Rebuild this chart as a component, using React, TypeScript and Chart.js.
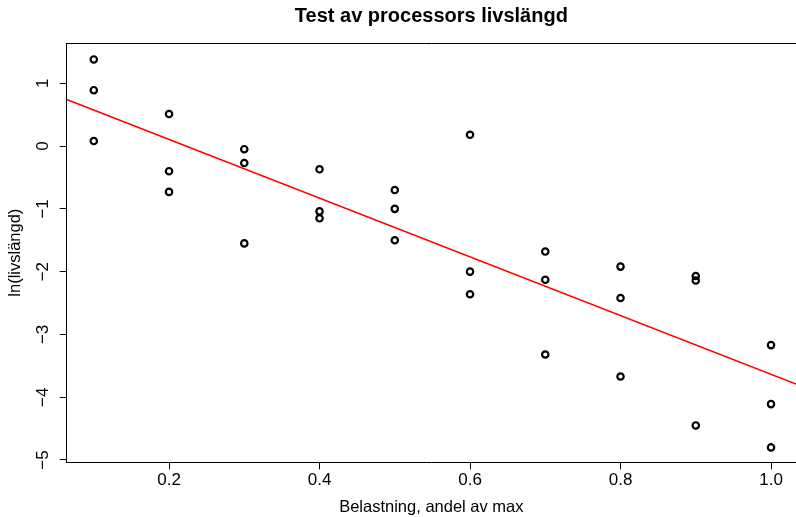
import React, { useEffect, useRef } from "react";
import { Chart, registerables } from "chart.js";

Chart.register(...registerables);

// ---- data ----
const loadLevels = [
  0.1, 0.1, 0.1,
  0.2, 0.2, 0.2,
  0.3, 0.3, 0.3,
  0.4, 0.4, 0.4,
  0.5, 0.5, 0.5,
  0.6, 0.6, 0.6,
  0.7, 0.7, 0.7,
  0.8, 0.8, 0.8,
  0.9, 0.9, 0.9,
  1.0, 1.0, 1.0,
];
const logLifetimes = [
  1.38, 0.89, 0.08,
  0.51, -0.40, -0.73,
  -0.05, -0.27, -1.55,
  -0.37, -1.04, -1.15,
  -0.70, -1.00, -1.50,
  0.18, -2.00, -2.36,
  -1.68, -2.13, -3.32,
  -1.92, -2.42, -3.67,
  -2.07, -2.14, -4.45,
  -3.17, -4.11, -4.80,
];
const xTickValues = [0.2, 0.4, 0.6, 0.8, 1.0];
const xTickLabels = ["0.2", "0.4", "0.6", "0.8", "1.0"];
const yTickValues = [-5, -4, -3, -2, -1, 0, 1];
const yTickLabels = ["\u22125", "\u22124", "\u22123", "\u22122", "\u22121", "0", "1"];

const TITLE = "Test av processors livslängd";
const X_TITLE = "Belastning, andel av max";
const Y_TITLE = "ln(livslängd)";

// axis ranges
const X_MIN = 0.064;
const X_MAX = 1.0332;
const Y_MIN = -5.037;
const Y_MAX = 1.642;

// ---- layout / style ----
const W = 796;
const H = 517;
const PLOT_LEFT = 66.7;
const PLOT_BOTTOM = 462.3;
const FONT = "'Liberation Sans', Arial, Helvetica, sans-serif";

function leastSquares(xs: number[], ys: number[]) {
  const n = xs.length;
  let mx = 0, my = 0;
  for (let i = 0; i < n; i++) { mx += xs[i]; my += ys[i]; }
  mx /= n; my /= n;
  let sxy = 0, sxx = 0;
  for (let i = 0; i < n; i++) {
    sxy += (xs[i] - mx) * (ys[i] - my);
    sxx += (xs[i] - mx) * (xs[i] - mx);
  }
  const b = sxy / sxx;
  return { a: my - b * mx, b };
}

const topFramePlugin = {
  id: "topFrame",
  afterDraw(chart: any) {
    const { ctx, chartArea } = chart;
    ctx.save();
    ctx.strokeStyle = "#000";
    ctx.lineWidth = 1;
    ctx.beginPath();
    const y = Math.round(chartArea.top) + 0.5;
    ctx.moveTo(chartArea.left, y);
    ctx.lineTo(chartArea.right, y);
    ctx.stroke();
    ctx.restore();
  },
};

export default function App() {
  const canvasRef = useRef<HTMLCanvasElement | null>(null);

  useEffect(() => {
    if (!canvasRef.current) return;
    const { a, b } = leastSquares(loadLevels, logLifetimes);
    const points = loadLevels.map((x, i) => ({ x, y: logLifetimes[i] }));
    const fitLine = [
      { x: X_MIN, y: a + b * X_MIN },
      { x: X_MAX, y: a + b * X_MAX },
    ];

    const chart = new Chart(canvasRef.current, {
      type: "scatter",
      data: {
        datasets: [
          {
            type: "line",
            data: fitLine,
            borderColor: "#ff0000",
            borderWidth: 1.5,
            pointRadius: 0,
            pointHoverRadius: 0,
            fill: false,
            order: 0,
          } as any,
          {
            data: points,
            pointRadius: 3.2,
            pointHoverRadius: 3.2,
            pointBorderWidth: 2.2,
            pointBorderColor: "#000",
            pointBackgroundColor: "rgba(0,0,0,0)",
            borderColor: "#000",
            backgroundColor: "rgba(0,0,0,0)",
            order: 1,
          },
        ],
      },
      options: {
        responsive: false,
        animation: false,
        events: [],
        layout: { padding: 0, autoPadding: false },
        plugins: {
          legend: { display: false },
          tooltip: { enabled: false },
          title: {
            display: true,
            text: TITLE,
            fullSize: false,
            color: "#000",
            font: { family: FONT, size: 20, weight: "bold" },
            padding: { top: 4.35, bottom: 14.65 },
          },
        },
        scales: {
          x: {
            type: "linear",
            min: X_MIN,
            max: X_MAX,
            afterBuildTicks: (scale: any) => {
              scale.ticks = xTickValues.map((v) => ({ value: v }));
            },
            afterFit: (scale: any) => {
              scale.height = H - PLOT_BOTTOM;
              scale.paddingLeft = 0;
              scale.paddingRight = 0;
            },
            ticks: {
              autoSkip: false,
              maxRotation: 0,
              minRotation: 0,
              padding: 1.3,
              color: "#000",
              font: { family: FONT, size: 17 },
              callback: (v: any) => xTickLabels[xTickValues.indexOf(Number(v))] ?? "",
            },
            grid: {
              display: true,
              drawOnChartArea: false,
              drawTicks: true,
              tickLength: 7,
              color: "#000",
              lineWidth: 1,
            },
            border: { display: true, color: "#000", width: 1 },
            title: {
              display: true,
              text: X_TITLE,
              color: "#000",
              font: { family: FONT, size: 16.5 },
              padding: { top: 0, bottom: 0 },
            },
          },
          y: {
            type: "linear",
            min: Y_MIN,
            max: Y_MAX,
            afterBuildTicks: (scale: any) => {
              scale.ticks = yTickValues.map((v) => ({ value: v }));
            },
            afterFit: (scale: any) => {
              scale.width = PLOT_LEFT;
              scale.paddingTop = 0;
              scale.paddingBottom = 0;
            },
            ticks: {
              autoSkip: false,
              minRotation: 90,
              maxRotation: 90,
              crossAlign: "center",
              padding: 6.4,
              color: "#000",
              font: { family: FONT, size: 17 },
              callback: (v: any) => yTickLabels[yTickValues.indexOf(Number(v))] ?? "",
            },
            grid: {
              display: true,
              drawOnChartArea: false,
              drawTicks: true,
              tickLength: 7,
              color: "#000",
              lineWidth: 1,
            },
            border: { display: true, color: "#000", width: 1 },
            title: {
              display: true,
              text: Y_TITLE,
              color: "#000",
              font: { family: FONT, size: 16.5 },
              padding: { top: 5.9, bottom: 0 },
            },
          },
        },
      } as any,
      plugins: [topFramePlugin],
    });

    return () => chart.destroy();
  }, []);

  return (
    <div style={{ position: "fixed", left: 0, top: 0, width: W, height: H, background: "#fff" }}>
      <canvas ref={canvasRef} width={W} height={H} style={{ display: "block" }} />
    </div>
  );
}
